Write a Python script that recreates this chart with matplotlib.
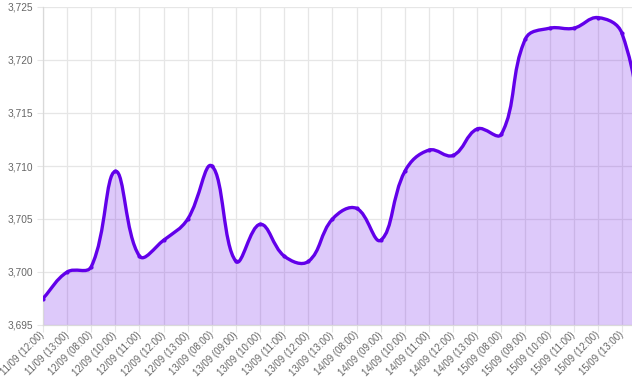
import numpy as np
import matplotlib
matplotlib.use("Agg")
import matplotlib.pyplot as plt
from matplotlib.path import Path
from matplotlib.patches import PathPatch
from matplotlib.ticker import FuncFormatter

labels = ["11/09 (12:00)", "11/09 (13:00)", "12/09 (08:00)", "12/09 (10:00)",
          "12/09 (11:00)", "12/09 (12:00)", "12/09 (13:00)", "13/09 (08:00)",
          "13/09 (09:00)", "13/09 (10:00)", "13/09 (11:00)", "13/09 (12:00)",
          "13/09 (13:00)", "14/09 (08:00)", "14/09 (09:00)", "14/09 (10:00)",
          "14/09 (11:00)", "14/09 (12:00)", "14/09 (13:00)", "15/09 (08:00)",
          "15/09 (09:00)", "15/09 (10:00)", "15/09 (11:00)", "15/09 (12:00)",
          "15/09 (13:00)", "16/09 (08:00)"]
values = [3.6975, 3.7000, 3.7005, 3.7095, 3.7015, 3.7030, 3.7050, 3.7100,
          3.7010, 3.7045, 3.7015, 3.7010, 3.7050, 3.7060, 3.7030, 3.7095,
          3.7115, 3.7110, 3.7135, 3.7130, 3.7220, 3.7230, 3.7230, 3.7240,
          3.7225, 3.7110]
y_ticks = [3.695, 3.700, 3.705, 3.710, 3.715, 3.720, 3.725]

LINE = "#6200ea"
GRID = "#e6e6e6"
FONT = ["Liberation Sans", "DejaVu Sans"]

W, H = 632, 378
fig = plt.figure(figsize=(W / 100, H / 100), dpi=100)
left, right, top, bottom = 43, 632, 7, 325
ax = fig.add_axes([left / W, 1 - bottom / H, (right - left) / W, (bottom - top) / H])

n_shown = 25
x = np.arange(len(values))
xmax = (n_shown - 1) + (632 - 622) / 24.12

# Chart.js-like bezier (tension 0.4) computed in pixel space
sx = (right - left) / xmax
sy = (bottom - top) / (y_ticks[-1] - y_ticks[0])
px = x * sx
py = np.array(values) * sy
t = 0.4
cp_prev = []
cp_next = []
for i in range(len(values)):
    ip = max(i - 1, 0)
    inx = min(i + 1, len(values) - 1)
    d01 = np.hypot(px[i] - px[ip], py[i] - py[ip])
    d12 = np.hypot(px[inx] - px[i], py[inx] - py[i])
    s01 = d01 / (d01 + d12) if (d01 + d12) > 0 else 0
    s12 = d12 / (d01 + d12) if (d01 + d12) > 0 else 0
    fa = t * s01
    fb = t * s12
    cp_prev.append((px[i] - fa * (px[inx] - px[ip]), py[i] - fa * (py[inx] - py[ip])))
    cp_next.append((px[i] + fb * (px[inx] - px[ip]), py[i] + fb * (py[inx] - py[ip])))

verts = [(x[0], values[0])]
codes = [Path.MOVETO]
for i in range(1, len(values)):
    c1 = cp_next[i - 1]
    c2 = cp_prev[i]
    verts += [(c1[0] / sx, c1[1] / sy), (c2[0] / sx, c2[1] / sy), (x[i], values[i])]
    codes += [Path.CURVE4] * 3

line_path = Path(verts, codes)
fill_verts = verts + [(x[-1], y_ticks[0]), (x[0], y_ticks[0]), (x[0], values[0])]
fill_codes = codes + [Path.LINETO, Path.LINETO, Path.CLOSEPOLY]
ax.add_patch(PathPatch(Path(fill_verts, fill_codes), facecolor=LINE, alpha=0.21,
                       edgecolor="none", zorder=2))
ax.add_patch(PathPatch(line_path, facecolor="none", edgecolor=LINE, lw=2.4, zorder=3,
                       capstyle="round", joinstyle="round"))
ax.scatter(x, values, s=9, color=LINE, zorder=4, clip_on=True, linewidths=0)

ax.set_xticks(x[:n_shown])
ax.set_xticklabels(labels[:n_shown], rotation=45, ha="right", va="center",
                   rotation_mode="anchor", fontsize=6.9, color="#666666", family=FONT)
ax.set_yticks(y_ticks)
ax.yaxis.set_major_formatter(FuncFormatter(lambda v, p: f"{v:.3f}".replace(".", ",")))
for lab in ax.get_yticklabels():
    lab.set_family(FONT)
ax.tick_params(axis="y", labelsize=7.3, labelcolor="#666666", length=4, color=GRID, pad=3)
ax.tick_params(axis="x", length=5, color=GRID, pad=1)
ax.set_xlim(0, xmax)
ax.set_ylim(y_ticks[0], y_ticks[-1])

ax.grid(True, color=GRID, lw=0.9, zorder=0)
ax.set_axisbelow(True)
for side in ["top", "right"]:
    ax.spines[side].set_visible(False)
for side in ["left", "bottom"]:
    ax.spines[side].set_color("#d9d9d9")
    ax.spines[side].set_linewidth(0.9)

fig.savefig("out.png", dpi=100)
